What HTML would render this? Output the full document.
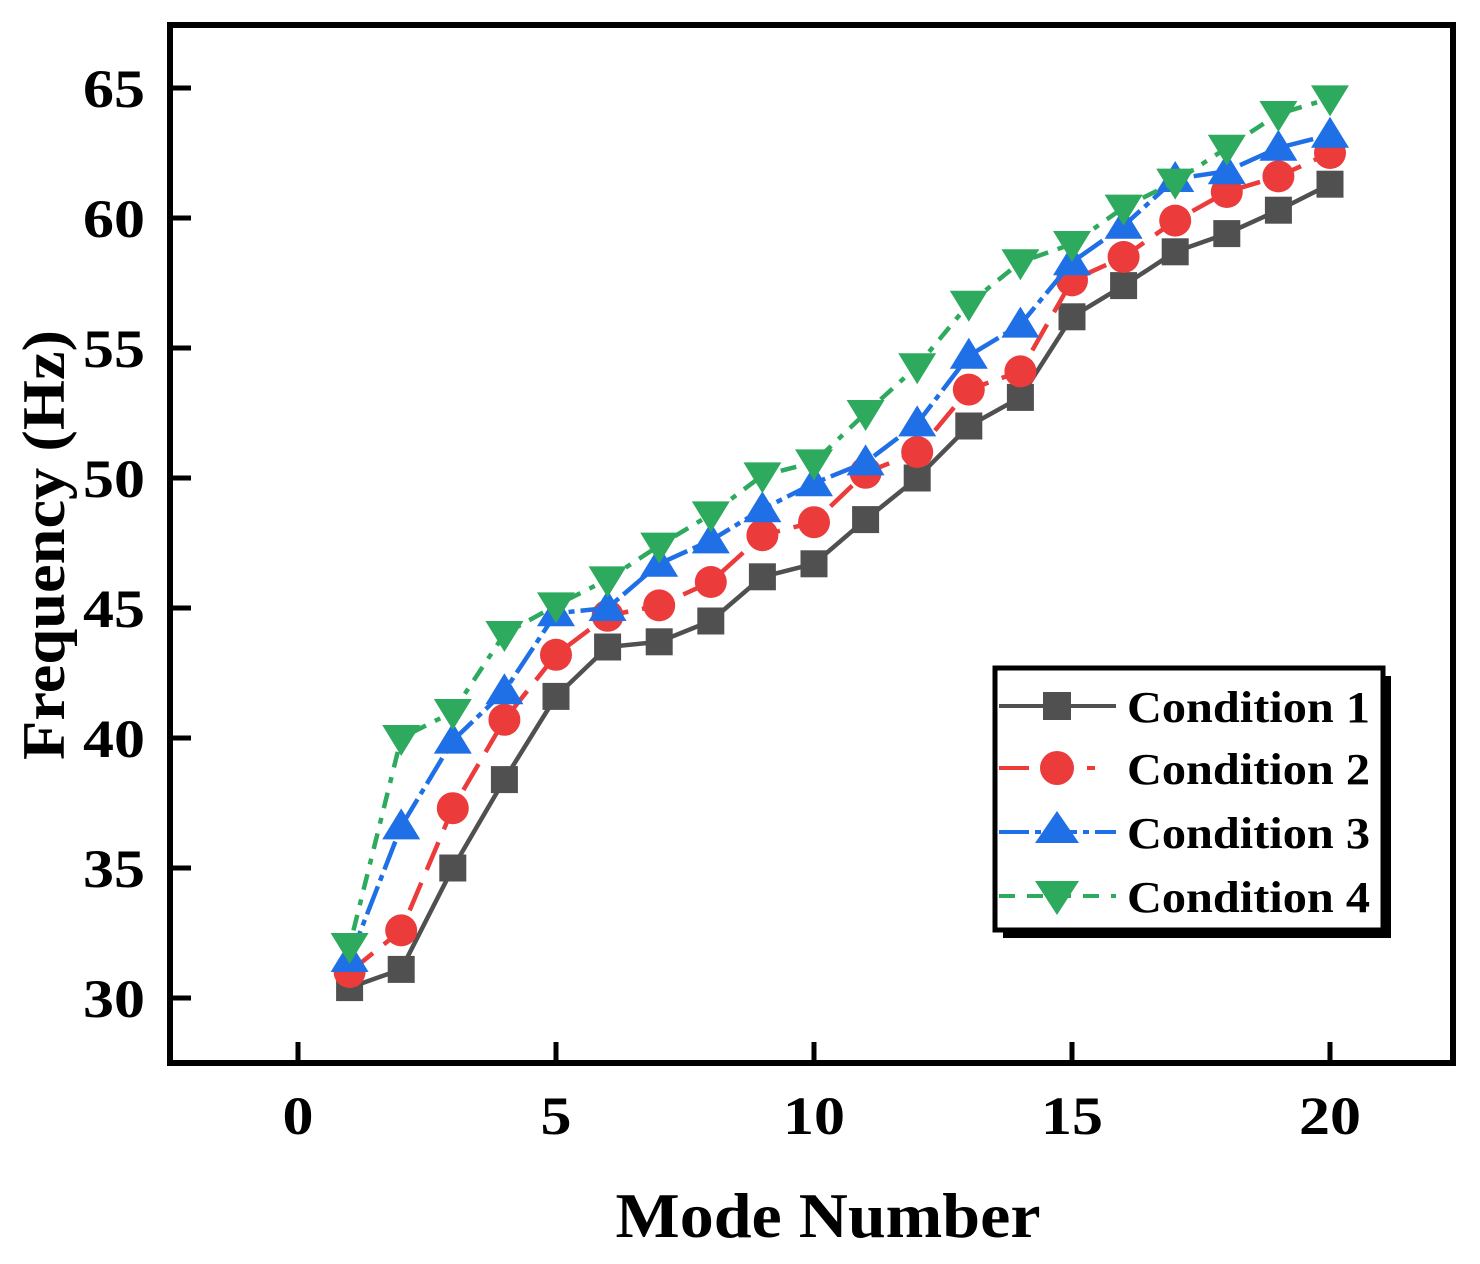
<!DOCTYPE html>
<html><head><meta charset="utf-8"><style>
html,body{margin:0;padding:0;background:#fff;}
svg{display:block;font-family:"Liberation Serif",serif;font-weight:bold;}
</style></head><body>
<svg id="chart" width="1480" height="1264" viewBox="0 0 1480 1264">
<g id="grid-layer"></g>
<g id="series-layer"></g>
<rect x="170" y="25" width="1283" height="1038" fill="none" stroke="#000" stroke-width="6"/>
<g id="axis-layer"></g>
<text x="828" y="1237" text-anchor="middle" font-size="64" textLength="425" lengthAdjust="spacingAndGlyphs">Mode Number</text>
<text transform="translate(64,545) rotate(-90)" text-anchor="middle" font-size="60" textLength="430" lengthAdjust="spacingAndGlyphs">Frequency (Hz)</text>
<g>
<rect x="1003" y="676" width="388" height="262" fill="#000"/>
<rect x="995" y="668" width="388" height="262" fill="#fff" stroke="#000" stroke-width="5"/>
<line x1="999" y1="706" x2="1116" y2="706" stroke="#505050" stroke-width="4"/>
<rect x="1043" y="692" width="28" height="28" fill="#505050"/>
<text x="1127" y="722" font-size="44" textLength="243" lengthAdjust="spacingAndGlyphs">Condition 1</text>
<line x1="999" y1="768" x2="1095" y2="768" stroke="#ec3b3b" stroke-width="4" stroke-dasharray="30,14"/>
<circle cx="1057" cy="768" r="17" fill="#ec3b3b"/>
<text x="1127" y="784" font-size="44" textLength="243" lengthAdjust="spacingAndGlyphs">Condition 2</text>
<line x1="999" y1="832" x2="1116" y2="832" stroke="#1f6fe6" stroke-width="4" stroke-dasharray="30,6,6,6"/>
<polygon points="1057,811 1079,843 1035,843" fill="#1f6fe6"/>
<text x="1127" y="848" font-size="44" textLength="243" lengthAdjust="spacingAndGlyphs">Condition 3</text>
<line x1="999" y1="896" x2="1116" y2="896" stroke="#2eaa5e" stroke-width="4" stroke-dasharray="16,12"/>
<polygon points="1035,881 1079,881 1057,915" fill="#2eaa5e"/>
<text x="1127" y="912" font-size="44" textLength="243" lengthAdjust="spacingAndGlyphs">Condition 4</text>
</g>
</svg>
<script>
const modes = [1,2,3,4,5,6,7,8,9,10,11,12,13,14,15,16,17,18,19,20];
const cond1 = [30.4,31.1,35.0,38.4,41.6,43.5,43.7,44.5,46.2,46.7,48.4,50.0,52.0,53.1,56.2,57.4,58.7,59.4,60.3,61.3];
const cond2 = [31.0,32.6,37.3,40.7,43.2,44.7,45.1,46.0,47.8,48.3,50.2,51.0,53.4,54.1,57.6,58.5,59.9,61.0,61.6,62.5];
const cond3 = [31.5,36.6,39.9,41.8,44.8,45.0,46.7,47.6,48.8,49.8,50.6,52.1,54.7,55.9,58.3,59.7,61.5,61.8,62.7,63.2];
const cond4 = [32.0,40.0,41.0,44.0,45.1,46.1,47.4,48.6,50.1,50.6,52.5,54.3,56.7,58.3,59.0,60.4,61.4,62.7,64.0,64.6];
const xTicks = [0,5,10,15,20];
const yTicks = [30,35,40,45,50,55,60,65];

const NS = "http://www.w3.org/2000/svg";
function xs(v){return 298 + v*(1330-298)/20;}
function ys(v){return 998 - (v-30)*(998-88)/35;}
function mk(tag, attrs, parent){const e=document.createElementNS(NS,tag);for(const k in attrs)e.setAttribute(k,attrs[k]);parent.appendChild(e);return e;}

const axis = document.getElementById('axis-layer');
xTicks.forEach(t=>{
  const l = mk('line',{x1:xs(t),x2:xs(t),y1:1060,y2:1042,stroke:'#000','stroke-width':5},axis);
  
  
  const tx = mk('text',{x:xs(t),y:1134,'text-anchor':'middle','font-size':54,textLength:String(t).length*31,lengthAdjust:'spacingAndGlyphs'},axis);
  tx.textContent = t;
  
  
});
yTicks.forEach(t=>{
  const l = mk('line',{x1:173,x2:191,y1:ys(t),y2:ys(t),stroke:'#000','stroke-width':5},axis);
  
  
  const tx = mk('text',{x:145,y:ys(t)+19,'text-anchor':'end','font-size':54,textLength:String(t).length*31,lengthAdjust:'spacingAndGlyphs'},axis);
  tx.textContent = t;
  
  
});

const layer = document.getElementById('series-layer');
const series = [
  {vals:cond1,color:'#505050',dash:'',shape:'square',name:'condition-1'},
  {vals:cond2,color:'#ec3b3b',dash:'30,14',shape:'circle',name:'condition-2'},
  {vals:cond3,color:'#1f6fe6',dash:'30,6,6,6',shape:'up',name:'condition-3'},
  {vals:cond4,color:'#2eaa5e',dash:'6,10,16,10',shape:'down',name:'condition-4'}
];
series.forEach(s=>{
  const g = mk('g',{},layer);
  
  
  const pts = modes.map((m,i)=>xs(m)+','+ys(s.vals[i])).join(' ');
  const pl = mk('polyline',{points:pts,fill:'none',stroke:s.color,'stroke-width':4.5,'stroke-dasharray':s.dash},g);
  
  
  modes.forEach((m,i)=>{
    const x=xs(m), y=ys(s.vals[i]); let e;
    if(s.shape==='square') e = mk('rect',{x:x-13.5,y:y-13.5,width:27,height:27,fill:s.color},g);
    else if(s.shape==='circle') e = mk('circle',{cx:x,cy:y,r:16,fill:s.color},g);
    else if(s.shape==='up') e = mk('polygon',{points:`${x},${y-18} ${x+19},${y+13} ${x-19},${y+13}`,fill:s.color},g);
    else e = mk('polygon',{points:`${x-19},${y-13} ${x+19},${y-13} ${x},${y+18}`,fill:s.color},g);
    
    
  });
});
</script>
</body></html>
